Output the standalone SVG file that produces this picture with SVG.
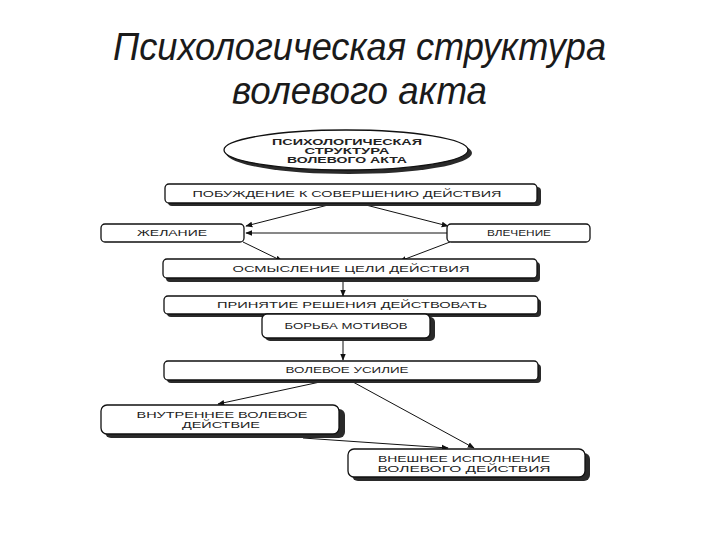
<svg xmlns="http://www.w3.org/2000/svg" width="720" height="540" viewBox="0 0 720 540">
<defs>
<style>
.title{font-family:"Liberation Sans",Arial,sans-serif;font-style:italic;font-size:38px;fill:#1a1a1a}
.box{fill:#fff;stroke:#111;stroke-width:1.3}
.sh{fill:#2a2a2a}
.t{font-family:"Liberation Sans",Arial,sans-serif;font-size:8.5px;fill:#222;text-anchor:middle}
.tb{font-family:"Liberation Sans",Arial,sans-serif;font-size:8.5px;font-weight:bold;fill:#222;text-anchor:middle}
.c{stroke:#111;stroke-width:1;fill:none;marker-end:url(#ah)}
</style>
<marker id="ah" viewBox="0 0 10 10" refX="9" refY="5" markerWidth="7" markerHeight="7" orient="auto" markerUnits="userSpaceOnUse">
<path d="M0,1 L10,5 L0,9 Z" fill="#111"/>
</marker>
</defs>
<rect width="720" height="540" fill="#fff"/>
<g id="title">
<text class="title" x="113" y="60" textLength="493" lengthAdjust="spacingAndGlyphs">Психологическая структура</text>
<text class="title" x="232" y="104" textLength="255" lengthAdjust="spacingAndGlyphs">волевого акта</text>
</g>
<g id="connectors">
<line class="c" x1="332" y1="204" x2="246" y2="226"/>
<line class="c" x1="362" y1="204" x2="448" y2="226"/>
<line class="c" x1="447" y1="233" x2="246" y2="233"/>
<line class="c" x1="243" y1="242" x2="282" y2="261"/>
<line class="c" x1="450" y1="242" x2="400" y2="261"/>
<line class="c" x1="343" y1="279" x2="343" y2="296"/>
<line class="c" x1="343" y1="340" x2="343" y2="360"/>
<line class="c" x1="320" y1="382" x2="218" y2="404"/>
<line class="c" x1="353" y1="382" x2="474" y2="448"/>
<line class="c" x1="303" y1="438" x2="448" y2="448"/>
</g>
<g id="n0">
<ellipse class="sh" cx="349" cy="153" rx="123" ry="21"/>
<ellipse class="box" cx="346" cy="150" rx="122" ry="20"/>
<text class="tb" x="347" y="145" textLength="150" lengthAdjust="spacingAndGlyphs">ПСИХОЛОГИЧЕСКАЯ</text>
<text class="tb" x="347" y="154" textLength="85" lengthAdjust="spacingAndGlyphs">СТРУКТУРА</text>
<text class="tb" x="347" y="163" textLength="120" lengthAdjust="spacingAndGlyphs">ВОЛЕВОГО АКТА</text>
</g>
<g id="n1">
<rect class="sh" x="168" y="187" width="373" height="19" rx="4"/>
<rect class="box" x="165" y="184" width="372" height="19" rx="4"/>
<text class="t" x="347" y="197" textLength="309" lengthAdjust="spacingAndGlyphs">ПОБУЖДЕНИЕ К СОВЕРШЕНИЮ ДЕЙСТВИЯ</text>
</g>
<g id="n2">
<rect class="box" x="101" y="224" width="143" height="18" rx="4"/>
<text class="t" x="172" y="236" textLength="70" lengthAdjust="spacingAndGlyphs">ЖЕЛАНИЕ</text>
</g>
<g id="n3">
<rect class="box" x="447" y="224" width="143" height="18" rx="4"/>
<text class="t" x="519" y="236" textLength="64" lengthAdjust="spacingAndGlyphs">ВЛЕЧЕНИЕ</text>
</g>
<g id="n4">
<rect class="sh" x="166" y="262" width="374" height="20" rx="4"/>
<rect class="box" x="163" y="259" width="374" height="19" rx="4"/>
<text class="t" x="351" y="272" textLength="237" lengthAdjust="spacingAndGlyphs">ОСМЫСЛЕНИЕ  ЦЕЛИ ДЕЙСТВИЯ</text>
</g>
<g id="n5">
<rect class="sh" x="167" y="299" width="374" height="18" rx="4"/>
<rect class="box" x="164" y="296" width="374" height="18" rx="4"/>
<text class="t" x="352" y="308" textLength="270" lengthAdjust="spacingAndGlyphs">ПРИНЯТИЕ  РЕШЕНИЯ  ДЕЙСТВОВАТЬ</text>
</g>
<g id="n6">
<rect class="sh" x="265" y="317" width="170" height="24" rx="5"/>
<rect class="box" x="262" y="314" width="168" height="24" rx="5"/>
<text class="t" x="346" y="329" textLength="123" lengthAdjust="spacingAndGlyphs">БОРЬБА МОТИВОВ</text>
</g>
<g id="n7">
<rect class="sh" x="167" y="364" width="374" height="19" rx="4"/>
<rect class="box" x="164" y="361" width="374" height="19" rx="4"/>
<text class="t" x="347" y="373" textLength="123" lengthAdjust="spacingAndGlyphs">ВОЛЕВОЕ УСИЛИЕ</text>
</g>
<g id="n8">
<rect class="sh" x="105" y="409" width="240" height="29" rx="6"/>
<rect class="box" x="101" y="405" width="238" height="29" rx="6"/>
<text class="t" x="222" y="418" textLength="171" lengthAdjust="spacingAndGlyphs">ВНУТРЕННЕЕ  ВОЛЕВОЕ</text>
<text class="t" x="221" y="428" textLength="78" lengthAdjust="spacingAndGlyphs">ДЕЙСТВИЕ</text>
</g>
<g id="n9">
<rect class="sh" x="352" y="453" width="238" height="28" rx="6"/>
<rect class="box" x="348" y="449" width="237" height="28" rx="6"/>
<text class="t" x="464" y="462" textLength="172" lengthAdjust="spacingAndGlyphs">ВНЕШНЕЕ  ИСПОЛНЕНИЕ</text>
<text class="t" x="464" y="472" textLength="173" lengthAdjust="spacingAndGlyphs">ВОЛЕВОГО  ДЕЙСТВИЯ</text>
</g>
</svg>
